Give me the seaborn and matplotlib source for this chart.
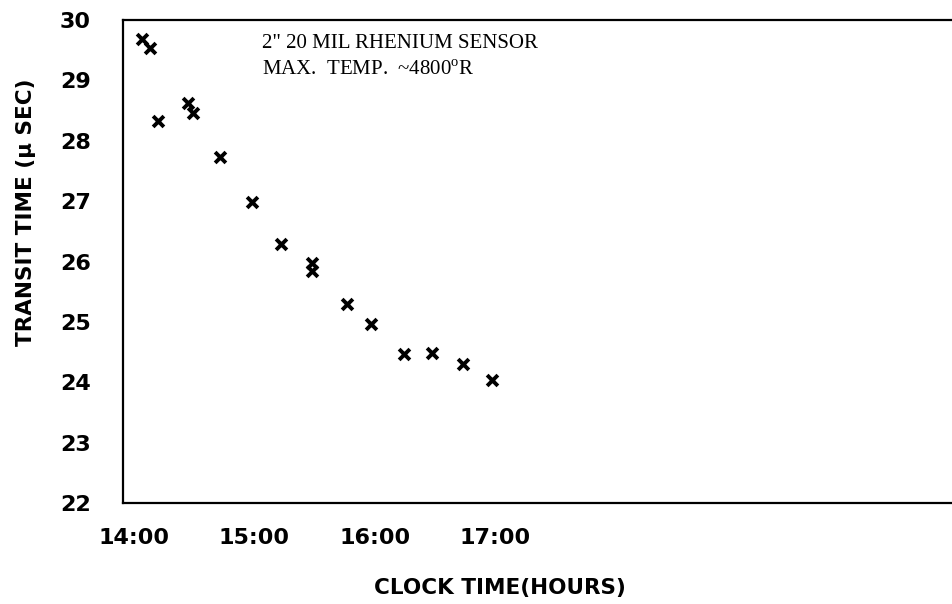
import matplotlib
matplotlib.use("Agg")
import matplotlib.pyplot as plt
import seaborn as sns
import pandas as pd

# Clock time of each reading (decimal hours) and measured transit time (microseconds)
clock_hours = [14.07, 14.13, 14.20, 14.45, 14.49, 14.71, 14.98, 15.22,
               15.48, 15.48, 15.77, 15.97, 16.24, 16.47, 16.73, 16.97]
transit_us = [29.68, 29.53, 28.32, 28.63, 28.46, 27.73, 26.98, 26.29,
              25.97, 25.84, 25.30, 24.97, 24.47, 24.49, 24.30, 24.03]

x_ticks = [14, 15, 16, 17]
x_tick_labels = ["14:00", "15:00", "16:00", "17:00"]
y_ticks = [22, 23, 24, 25, 26, 27, 28, 29, 30]

df = pd.DataFrame({"clock": clock_hours, "transit": transit_us})

sns.set_theme(style="white")
plt.rcParams["font.family"] = ["DejaVu Sans"]
plt.rcParams["text.color"] = "black"
plt.rcParams["axes.labelcolor"] = "black"
plt.rcParams["mathtext.fontset"] = "custom"
plt.rcParams["mathtext.rm"] = "Liberation Serif"

fig = plt.figure(figsize=(9.52, 6.04), dpi=100)
ax = fig.add_axes([0.1292, 0.1672, 0.8708, 0.7997])

sns.scatterplot(data=df, x="clock", y="transit", marker="x", s=60,
                color="black", linewidth=2.8, ax=ax, zorder=3)

ax.set_xlim(13.909, 20.79)
ax.set_ylim(22, 30)
ax.set_xticks(x_ticks)
ax.set_xticklabels(x_tick_labels)
ax.set_yticks(y_ticks)

ax.tick_params(axis="both", length=0, labelsize=16, colors="black")
ax.tick_params(axis="y", pad=23)
ax.tick_params(axis="x", pad=18)
for lbl in ax.get_xticklabels() + ax.get_yticklabels():
    lbl.set_fontweight("bold")

for side in ["left", "top", "bottom"]:
    ax.spines[side].set_visible(True)
    ax.spines[side].set_color("black")
    ax.spines[side].set_linewidth(1.6)
ax.spines["right"].set_visible(False)

ax.set_xlabel("CLOCK TIME(HOURS)", fontsize=15.5, fontweight="bold")
ax.xaxis.set_label_coords(500 / 952, 1 - 588 / 604, transform=fig.transFigure)
ax.xaxis.label.set_va("center")

ax.set_ylabel("TRANSIT TIME (μ SEC)", fontsize=15.5, fontweight="bold")
ax.yaxis.set_label_coords(26 / 952, 1 - 212 / 604, transform=fig.transFigure)
ax.yaxis.label.set_va("center")

serif = ["Liberation Serif", "DejaVu Serif"]
ax.text(262 / 952, 1 - 43 / 604, '2" 20 MIL RHENIUM SENSOR',
        transform=fig.transFigure, fontsize=15, family=serif,
        ha="left", va="center")
ax.text(262 / 952, 1 - 70 / 604, r"MAX.  TEMP.  ~4800$^{\mathrm{o}}$R",
        transform=fig.transFigure, fontsize=15, family=serif,
        ha="left", va="center")

fig.savefig("out.png", dpi=100, facecolor="white")
